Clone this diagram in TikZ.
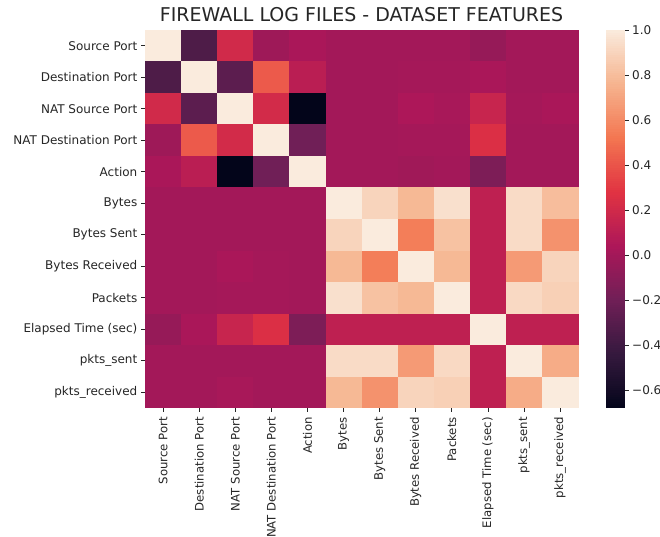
\documentclass[tikz,border=0pt]{standalone}
\usepackage{fontspec}
\setmainfont{DejaVu Sans}
\usetikzlibrary{positioning}

% rocket colour map anchors
\definecolor{rk0}{HTML}{03051A}
\definecolor{rk1}{HTML}{35193E}
\definecolor{rk2}{HTML}{701F57}
\definecolor{rk3}{HTML}{AD1759}
\definecolor{rk4}{HTML}{E13342}
\definecolor{rk5}{HTML}{F37651}
\definecolor{rk6}{HTML}{F6B48F}
\definecolor{rk7}{HTML}{FAEBDD}
\definecolor{ticktext}{HTML}{262626}

\newcommand{\rocketcolor}[1]{%
  \pgfmathsetmacro{\rs}{7*(#1+0.68)/1.68}%
  \pgfmathtruncatemacro{\ri}{max(0,min(floor(\rs),6))}%
  \pgfmathtruncatemacro{\rj}{\ri+1}%
  \pgfmathsetmacro{\rf}{max(0,min(100,100*(\rs-\ri)))}%
  \colorlet{cellcol}{rk\rj!\rf!rk\ri}%
}

\tikzset{
  ticklabel/.style={text=ticktext, font=\fontsize{12}{14}\selectfont, inner sep=0pt},
  collabel/.style={ticklabel, font=\fontsize{11.7}{14}\selectfont, anchor=east, rotate=90},
  tickmark/.style={draw=ticktext, line width=0.8pt}
}

\begin{document}
\begin{tikzpicture}[x=1pt, y=-1pt]
  \useasboundingbox[fill=white] (0,0) rectangle (660,537);

  % title
  \node[anchor=base, text=ticktext, font=\fontsize{19}{22}\selectfont, inner sep=0pt] (title) at (361.5,22) {FIREWALL LOG FILES - DATASET FEATURES};

  % heatmap cells
  \foreach \vals [count=\r from 0] in {
      {1,-0.34,0.2,-0.02,0.03,0,0,0,0,-0.05,0,0},
      {-0.34,1,-0.28,0.42,0.1,0,0,0.01,0.01,0.03,0,0},
      {0.2,-0.28,1,0.21,-0.68,0,0,0.04,0.02,0.16,0.01,0.03},
      {-0.02,0.42,0.21,1,-0.2,0,0,0.01,0.01,0.25,0,0},
      {0.03,0.1,-0.68,-0.2,1,0,0,-0.01,0,-0.15,0,0},
      {0,0,0,0,0,1,0.9,0.78,0.95,0.12,0.93,0.8},
      {0,0,0,0,0,0.9,1,0.55,0.82,0.12,0.93,0.63},
      {0,0,0.03,0.01,0,0.78,0.55,1,0.78,0.12,0.66,0.9},
      {0,0,0.01,0.01,0,0.95,0.82,0.78,1,0.12,0.92,0.88},
      {-0.05,0.03,0.16,0.25,-0.15,0.12,0.12,0.12,0.12,1,0.12,0.12},
      {0,0,0,0,0,0.93,0.93,0.66,0.92,0.12,1,0.73},
      {0,0,0.02,0,0,0.78,0.63,0.9,0.88,0.12,0.73,1}} {
    \foreach \v [count=\c from 0] in \vals {
      \rocketcolor{\v}
      \fill[cellcol] ({145+\c*36.1},{30+\r*31.5}) rectangle ++(36.4,31.8);
    }
  }

  % row and column labels
  \foreach \name [count=\k from 0] in {Source Port,Destination Port,NAT Source Port,NAT Destination Port,Action,Bytes,Bytes Sent,Bytes Received,Packets,Elapsed Time (sec),pkts\_sent,pkts\_received} {
    \draw[tickmark] (141,{30+31.5*(\k+0.5)}) -- (145,{30+31.5*(\k+0.5)});
    \node[ticklabel, anchor=east] (row\k) at (137.5,{30+31.5*(\k+0.5)}) {\name};
    \draw[tickmark] ({145+36.1*(\k+0.5)},408) -- ({145+36.1*(\k+0.5)},412);
    \node[collabel] (col\k) at ({145+36.1*(\k+0.5)},417) {\name};
  }

  % colour bar
  \foreach \s in {0,...,167} {
    \rocketcolor{-0.68+0.01*\s+0.005}
    \fill[cellcol] (606,{408-2.25*(\s+1)}) rectangle (625,{408-2.25*\s+0.3});
  }
  \foreach \lab/\v [count=\k] in {1.0/1.0,0.8/0.8,0.6/0.6,0.4/0.4,0.2/0.2,0.0/0.0,−0.2/-0.2,−0.4/-0.4,−0.6/-0.6} {
    \draw[tickmark] (625,{408-225*(\v+0.68)}) -- (629,{408-225*(\v+0.68)});
    \node[ticklabel, anchor=west] (cb\k) at (632,{408-225*(\v+0.68)}) {\lab};
  }
\end{tikzpicture}
\end{document}
